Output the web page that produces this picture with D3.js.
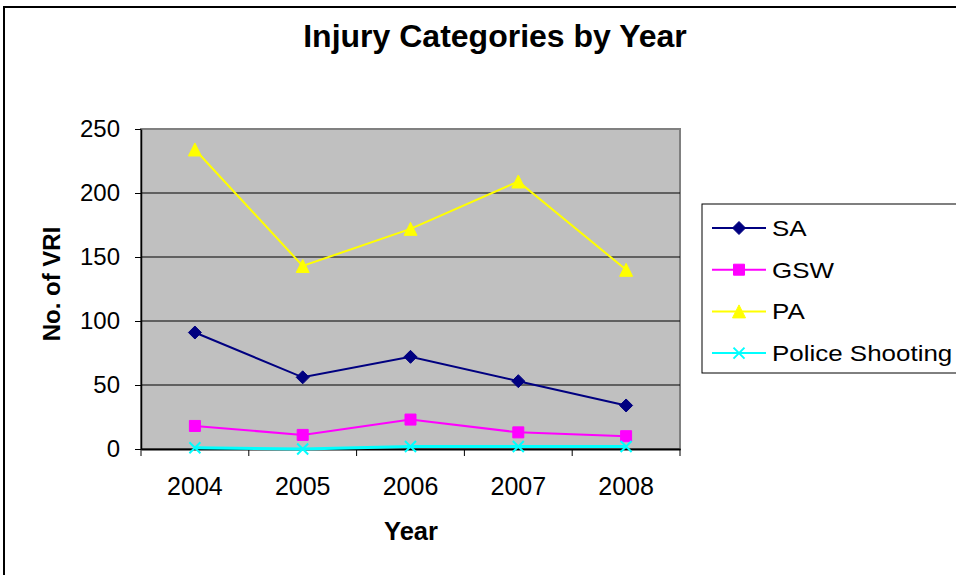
<!DOCTYPE html>
<html>
<head>
<meta charset="utf-8">
<script src="https://cdn.jsdelivr.net/npm/d3@7"></script>
<style>
  body { margin: 0; background: #fff; }
  svg { display: block; font-family: "Liberation Sans", Arial, sans-serif; }
</style>
</head>
<body>
<svg id="chart"></svg>
<script>
/*data*/
const years = ["2004", "2005", "2006", "2007", "2008"];
const seriesNames = ["SA", "GSW", "PA", "Police Shooting"];
const saValues = [91, 56, 72, 53, 34];
const gswValues = [18, 11, 23, 13, 10];
const paValues = [234, 143, 172, 209, 140];
const policeValues = [1, 0, 2, 2, 2];
const yTicks = [0, 50, 100, 150, 200, 250];

const width = 956;
const height = 575;
const plot = {left: 141, right: 680, top: 129, bottom: 449};

const series = [
  {name: seriesNames[0], values: saValues, color: "#000080", marker: "diamond"},
  {name: seriesNames[1], values: gswValues, color: "#FF00FF", marker: "square"},
  {name: seriesNames[2], values: paValues, color: "#FFFF00", marker: "triangle"},
  {name: seriesNames[3], values: policeValues, color: "#00FFFF", marker: "cross"}
];

const svg = d3.select("#chart").attr("width", width).attr("height", height);

/*outer chart frame, runs off the right and bottom edge*/
svg.append("rect")
  .attr("x", 4).attr("y", 7)
  .attr("width", 1000).attr("height", 600)
  .attr("fill", "none").attr("stroke", "#000").attr("stroke-width", 2);

const x = d3.scaleBand().domain(years).range([plot.left, plot.right]).paddingInner(0).paddingOuter(0);
const y = d3.scaleLinear().domain([0, 250]).range([plot.bottom, plot.top]);
const cx = (d) => x(d) + x.bandwidth() / 2;

/*plot background*/
svg.append("rect")
  .attr("x", plot.left).attr("y", plot.top)
  .attr("width", plot.right - plot.left).attr("height", plot.bottom - plot.top)
  .attr("fill", "#C0C0C0").attr("stroke", "#808080").attr("stroke-width", 2);

/*gridlines*/
svg.append("g").selectAll("line")
  .data(yTicks.filter(d => d > 0 && d < 250))
  .enter().append("line")
  .attr("x1", plot.left).attr("x2", plot.right)
  .attr("y1", d => y(d)).attr("y2", d => y(d))
  .attr("stroke", "#000").attr("stroke-width", 1);

/*y axis*/
const yAxis = svg.append("g")
  .attr("transform", "translate(" + plot.left + ",0)")
  .call(d3.axisLeft(y).tickValues(yTicks).tickSize(6).tickPadding(15).tickSizeOuter(0));
yAxis.select(".domain").attr("stroke", "#000").attr("stroke-width", 1.5);
yAxis.selectAll(".tick line").attr("stroke", "#000");
yAxis.selectAll("text").attr("font-size", 24).attr("fill", "#000")
  .attr("font-family", "Liberation Sans, Arial, sans-serif");

/*x axis, labels centred in each band*/
const xAxis = svg.append("g")
  .attr("transform", "translate(0," + plot.bottom + ")")
  .call(d3.axisBottom(x).tickSize(0).tickPadding(28).tickSizeOuter(0));
xAxis.select(".domain").attr("stroke", "#000").attr("stroke-width", 2);
xAxis.selectAll("text").attr("font-size", 25).attr("fill", "#000")
  .attr("font-family", "Liberation Sans, Arial, sans-serif");

/*tick marks between categories*/
const boundaries = years.map(d => x(d)).concat([plot.right]);
svg.append("g").selectAll("line")
  .data(boundaries)
  .enter().append("line")
  .attr("x1", d => d).attr("x2", d => d)
  .attr("y1", plot.bottom).attr("y2", plot.bottom + 7)
  .attr("stroke", "#000").attr("stroke-width", 1);

/*marker shapes*/
function markerPath(type, size) {
  const s = size / 2;
  if (type === "diamond") return "M0," + (-s) + "L" + s + ",0L0," + s + "L" + (-s) + ",0Z";
  if (type === "square") return "M" + (-s) + "," + (-s) + "h" + size + "v" + size + "h" + (-size) + "Z";
  if (type === "triangle") return "M0," + (-s) + "L" + s + "," + s + "L" + (-s) + "," + s + "Z";
  return "M" + (-s) + "," + (-s) + "L" + s + "," + s + "M" + s + "," + (-s) + "L" + (-s) + "," + s;
}
const markerSize = {diamond: 13, square: 11, triangle: 13, cross: 11};

const line = d3.line()
  .x((d, i) => cx(years[i]))
  .y(d => y(d));

series.forEach(s => {
  const g = svg.append("g");
  g.append("path")
    .attr("d", line(s.values))
    .attr("fill", "none")
    .attr("stroke", s.color)
    .attr("stroke-width", s.marker === "cross" ? 3 : 2);
  g.selectAll("path.mark")
    .data(s.values)
    .enter().append("path")
    .attr("class", "mark")
    .attr("transform", (d, i) => "translate(" + cx(years[i]) + "," + y(d) + ")")
    .attr("d", markerPath(s.marker, markerSize[s.marker]))
    .attr("fill", s.marker === "cross" ? "none" : s.color)
    .attr("stroke", s.color)
    .attr("stroke-width", s.marker === "cross" ? 2 : 1);
});

/*title*/
svg.append("text")
  .text("Injury Categories by Year")
  .attr("x", 495).attr("y", 47)
  .attr("text-anchor", "middle")
  .attr("font-size", 32).attr("font-weight", "bold");

/*axis titles*/
svg.append("text")
  .text("Year")
  .attr("x", 411).attr("y", 540)
  .attr("text-anchor", "middle")
  .attr("font-size", 25.5).attr("font-weight", "bold");

svg.append("text")
  .text("No. of VRI")
  .attr("transform", "translate(60,284) rotate(-90)")
  .attr("text-anchor", "middle")
  .attr("font-size", 24).attr("font-weight", "bold");

/*legend*/
const legend = svg.append("g");
legend.append("rect")
  .attr("x", 702).attr("y", 204)
  .attr("width", 300).attr("height", 169)
  .attr("fill", "#fff").attr("stroke", "#000").attr("stroke-width", 1);

series.forEach((s, i) => {
  const ly = 228 + i * 41.7;
  legend.append("line")
    .attr("x1", 712).attr("x2", 766)
    .attr("y1", ly).attr("y2", ly)
    .attr("stroke", s.color).attr("stroke-width", 2);
  legend.append("path")
    .attr("transform", "translate(739," + ly + ")")
    .attr("d", markerPath(s.marker, markerSize[s.marker]))
    .attr("fill", s.marker === "cross" ? "none" : s.color)
    .attr("stroke", s.color)
    .attr("stroke-width", s.marker === "cross" ? 2 : 1);
  /*legend text is drawn a bit wider than normal in the original*/
  legend.append("text")
    .text(s.name)
    .attr("transform", "translate(772," + (ly + 8) + ") scale(1.18,1)")
    .attr("font-size", 22);
});
</script>
</body>
</html>
